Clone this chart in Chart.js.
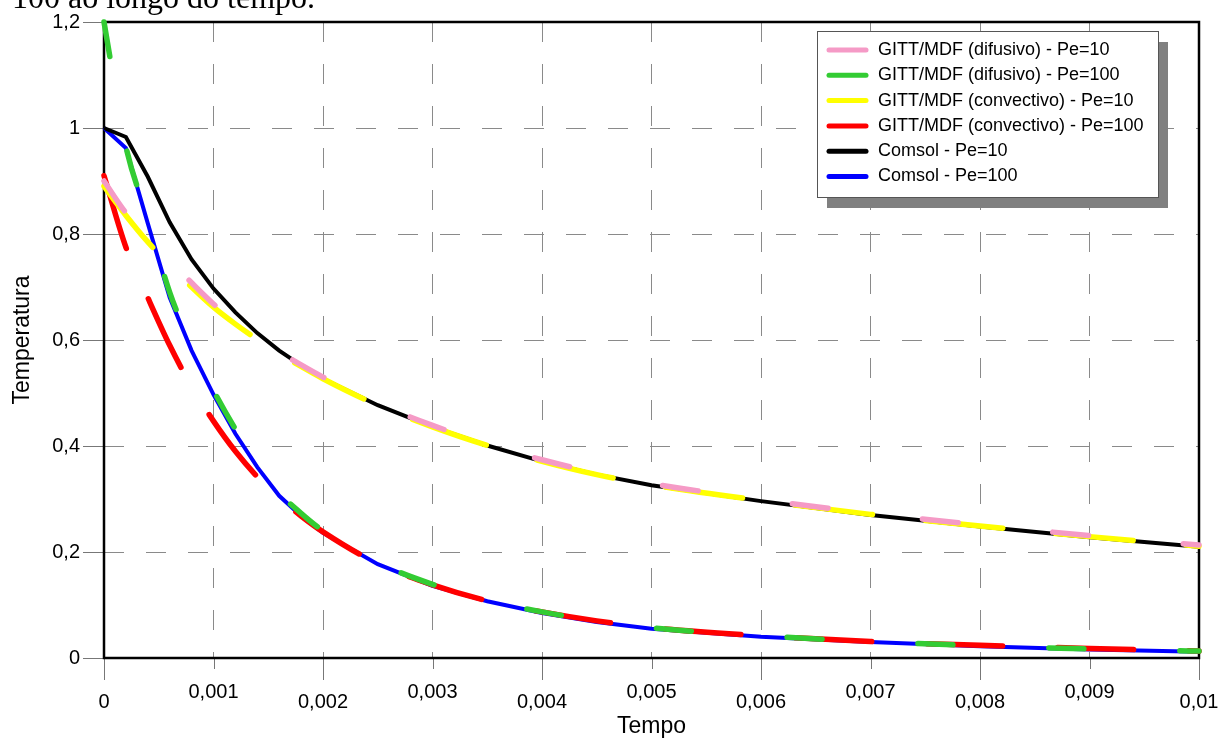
<!DOCTYPE html>
<html>
<head>
<meta charset="utf-8">
<title>Temperatura x Tempo</title>
<script src="https://cdn.jsdelivr.net/npm/chart.js@4"></script>
<style>
  html, body { margin: 0; padding: 0; background: #fff; }
  #wrap { position: relative; width: 1219px; height: 738px; overflow: hidden; }
  #caption { position: absolute; left: 12px; top: -19px; font: 32px/32px "Liberation Serif", "Times New Roman", serif; color: #000; white-space: nowrap; }
  canvas { position: absolute; left: 0; top: 0; }
</style>
</head>
<body>
<div id="wrap">
  <canvas id="chart" width="1219" height="738"></canvas>
  <div id="caption">100 ao longo do tempo.</div>
</div>
<script>
// time samples shared by every series
const tempo = [0, 0.0002, 0.0004, 0.0006, 0.0008, 0.001, 0.0012, 0.0014, 0.0016, 0.0018, 0.002,
               0.0025, 0.003, 0.0035, 0.004, 0.0045, 0.005, 0.006, 0.007, 0.008, 0.009, 0.01];

// GITT/MDF solutions
const difusivoPe10 = [0.90, 0.84, 0.795, 0.75, 0.708, 0.668, 0.633, 0.604, 0.578, 0.553, 0.53,
                      0.48, 0.439, 0.404, 0.374, 0.349, 0.329, 0.299, 0.273, 0.251, 0.231, 0.213];
const difusivoPe100 = [1.2, 0.965, 0.83, 0.69, 0.59, 0.505, 0.432, 0.368, 0.312, 0.273, 0.24,
                       0.18, 0.139, 0.109, 0.087, 0.07, 0.057, 0.042, 0.031, 0.023, 0.017, 0.013];
const convectivoPe10 = [0.89, 0.835, 0.785, 0.742, 0.70, 0.662, 0.63, 0.601, 0.575, 0.55, 0.527,
                        0.477, 0.436, 0.401, 0.371, 0.346, 0.327, 0.297, 0.271, 0.249, 0.229, 0.211];
const convectivoPe100 = [0.91, 0.775, 0.68, 0.59, 0.512, 0.447, 0.39, 0.342, 0.302, 0.268, 0.238,
                         0.178, 0.138, 0.108, 0.087, 0.07, 0.057, 0.042, 0.031, 0.024, 0.018, 0.013];

// Comsol reference solutions
const comsolPe10 = [1.0, 0.983, 0.908, 0.822, 0.752, 0.697, 0.652, 0.613, 0.58, 0.552, 0.527,
                    0.477, 0.436, 0.401, 0.371, 0.346, 0.326, 0.296, 0.27, 0.248, 0.228, 0.21];
const comsolPe100 = [1.0, 0.962, 0.82, 0.68, 0.58, 0.497, 0.423, 0.36, 0.306, 0.268, 0.236,
                     0.177, 0.136, 0.107, 0.085, 0.068, 0.055, 0.04, 0.03, 0.022, 0.016, 0.012];

const serieNames = [
    'GITT/MDF (difusivo) - Pe=10',
    'GITT/MDF (difusivo) - Pe=100',
    'GITT/MDF (convectivo) - Pe=10',
    'GITT/MDF (convectivo) - Pe=100',
    'Comsol - Pe=10',
    'Comsol - Pe=100'
];

const FONT = "'Liberation Sans', Arial, sans-serif";
Chart.defaults.font.family = FONT;
Chart.defaults.color = '#000';

function pts(values) {
    return tempo.map((t, i) => ({ x: t, y: values[i] }));
}

// numbers with decimal comma, no trailing zeros
function fmt(v, d) {
    return parseFloat(v.toFixed(d)).toString().replace('.', ',');
}

function gitt(label, values, color, dash, order) {
    return {
        label: label,
        data: pts(values),
        borderColor: color,
        backgroundColor: color,
        borderWidth: 5.5,
        borderDash: dash,
        borderCapStyle: 'round',
        cubicInterpolationMode: 'monotone',
        pointRadius: 0,
        order: order,
        clip: 8
    };
}

function comsol(label, values, color) {
    return {
        label: label,
        data: pts(values),
        borderColor: color,
        backgroundColor: color,
        borderWidth: 4,
        tension: 0,
        pointRadius: 0,
        order: 10,
        clip: 8
    };
}

// plot frame and the staggered tick marks under the x axis
const framePlugin = {
    id: 'frame',
    beforeDatasetsDraw(chart) {
        const { ctx, chartArea: a, scales: { x } } = chart;
        ctx.save();
        ctx.strokeStyle = '#777';
        ctx.lineWidth = 1;
        x.ticks.forEach((t, i) => {
            const px = Math.round(x.getPixelForValue(t.value)) + 0.5;
            ctx.beginPath();
            ctx.moveTo(px, a.bottom);
            ctx.lineTo(px, a.bottom + (i % 2 ? 11 : 22));
            ctx.stroke();
        });
        ctx.strokeStyle = '#000';
        ctx.lineWidth = 2.5;
        ctx.strokeRect(a.left, a.top, a.right - a.left, a.bottom - a.top);
        ctx.restore();
    }
};

// boxed legend with drop shadow inside the plot
const legendPlugin = {
    id: 'legendBox',
    afterDraw(chart) {
        const ctx = chart.ctx;
        const x0 = 817, y0 = 31, w = 341, h = 166;
        ctx.save();
        ctx.fillStyle = '#808080';
        ctx.fillRect(x0 + 10, y0 + 11, w, h);
        ctx.fillStyle = '#fff';
        ctx.fillRect(x0, y0, w, h);
        ctx.strokeStyle = '#555';
        ctx.lineWidth = 1;
        ctx.strokeRect(x0 + 0.5, y0 + 0.5, w, h);
        ctx.font = '18px ' + FONT;
        ctx.textBaseline = 'middle';
        ctx.lineCap = 'round';
        chart.data.datasets.forEach((ds, i) => {
            const y = 50 + i * 25.3;
            ctx.strokeStyle = ds.borderColor;
            ctx.lineWidth = 5;
            ctx.beginPath();
            ctx.moveTo(829, y);
            ctx.lineTo(866, y);
            ctx.stroke();
            ctx.fillStyle = '#000';
            ctx.fillText(ds.label, 878, y);
        });
        ctx.restore();
    }
};

const ctx = document.getElementById('chart').getContext('2d');
new Chart(ctx, {
    type: 'line',
    data: {
        datasets: [
            gitt(serieNames[0], difusivoPe10, '#f59ac6', [36, 95], 1),
            gitt(serieNames[1], difusivoPe100, '#33cc33', [35, 96], 1),
            gitt(serieNames[2], convectivoPe10, '#ffff00', [78, 53], 2),
            gitt(serieNames[3], convectivoPe100, '#ff0000', [76, 55], 2),
            comsol(serieNames[4], comsolPe10, '#000000'),
            comsol(serieNames[5], comsolPe100, '#0000ff')
        ]
    },
    options: {
        responsive: false,
        animation: false,
        devicePixelRatio: 1,
        layout: { padding: { top: 22, right: 20, left: 0, bottom: 0 } },
        plugins: {
            legend: { display: false },
            tooltip: { enabled: false }
        },
        scales: {
            x: {
                type: 'linear',
                min: 0,
                max: 0.01,
                afterFit: s => { s.height = 80; s.paddingLeft = 0; s.paddingRight = 0; },
                ticks: {
                    stepSize: 0.001,
                    autoSkip: false,
                    maxRotation: 0,
                    padding: 29,
                    font: { size: 20, lineHeight: 0.5 },
                    callback: (v, i) => (i % 2 === 0 ? ['', fmt(v, 3)] : fmt(v, 3))
                },
                grid: { color: '#8a8a8a', lineWidth: 1, drawTicks: false },
                border: { display: false, dash: [20, 22], dashOffset: 0 },
                title: { display: true, text: 'Tempo', font: { size: 23, lineHeight: 1 }, padding: { top: 0, bottom: 0 } }
            },
            y: {
                min: 0,
                max: 1.2,
                afterFit: s => { s.width = 104; s.paddingTop = 0; s.paddingBottom = 0; },
                ticks: {
                    stepSize: 0.2,
                    padding: 3,
                    font: { size: 20 },
                    callback: v => fmt(v, 1)
                },
                grid: { color: '#8a8a8a', lineWidth: 1, tickLength: 21, tickColor: '#777', tickBorderDash: [] },
                border: { display: false, dash: [20, 22], dashOffset: 0 },
                title: { display: true, text: 'Temperatura', font: { size: 23, lineHeight: 1 }, padding: { top: 11.5, bottom: 0 } }
            }
        }
    },
    plugins: [framePlugin, legendPlugin]
});
</script>
</body>
</html>
